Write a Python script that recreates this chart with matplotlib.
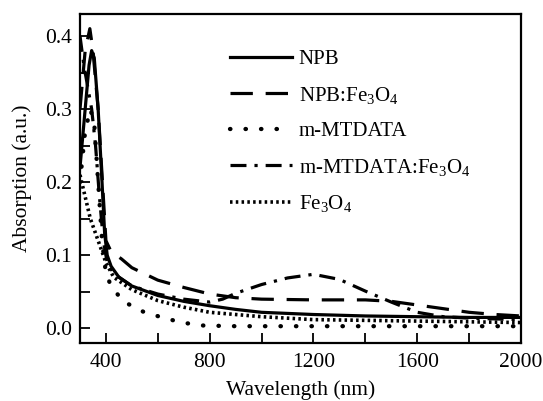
import numpy as np
import matplotlib
matplotlib.use('Agg')
import matplotlib.pyplot as plt
from matplotlib.ticker import MultipleLocator

plt.rcParams['font.family'] = 'Liberation Serif'
plt.rcParams['mathtext.fontset'] = 'custom'
plt.rcParams['mathtext.rm'] = 'Liberation Serif'
plt.rcParams['mathtext.it'] = 'Liberation Serif'

# NPB (solid)
npb_x = [300, 320, 335, 345, 355, 370, 385, 395, 405, 420, 450, 500, 600, 700, 800, 900, 1000, 1200, 1400, 1600, 1800, 2000]
npb_y = [0.22, 0.30, 0.36, 0.38, 0.37, 0.30, 0.20, 0.13, 0.10, 0.085, 0.07, 0.058, 0.045, 0.037, 0.031, 0.026, 0.022, 0.019, 0.017, 0.016, 0.015, 0.015]

# NPB:Fe3O4 (dashed)
npbfe_x = [300, 320, 338, 350, 370, 390, 400, 420, 460, 500, 600, 700, 800, 900, 1000, 1200, 1400, 1500, 1600, 1700, 1800, 1900, 2000]
npbfe_y = [0.30, 0.38, 0.41, 0.38, 0.30, 0.18, 0.12, 0.105, 0.095, 0.083, 0.066, 0.056, 0.047, 0.042, 0.04, 0.039, 0.039, 0.037, 0.032, 0.027, 0.022, 0.019, 0.017]

# m-MTDATA (sparse dots)
mt_x = [300, 320, 340, 355, 370, 385, 400, 420, 466, 543, 616, 693, 770, 900, 1200, 1600, 2000]
mt_y = [0.20, 0.27, 0.30, 0.28, 0.20, 0.12, 0.075, 0.058, 0.037, 0.023, 0.015, 0.008, 0.004, 0.003, 0.003, 0.003, 0.003]

# m-MTDATA:Fe3O4 (dash-dot)
mtfe_x = [300, 315, 330, 345, 360, 375, 390, 405, 430, 500, 600, 700, 800, 850, 900, 1000, 1100, 1200, 1300, 1400, 1500, 1600, 1700, 1800, 2000]
mtfe_y = [0.40, 0.36, 0.33, 0.30, 0.25, 0.18, 0.12, 0.09, 0.075, 0.058, 0.047, 0.040, 0.036, 0.040, 0.048, 0.060, 0.069, 0.074, 0.067, 0.051, 0.036, 0.022, 0.016, 0.014, 0.012]

# Fe3O4 (dense dots)
fe_x = [300, 340, 380, 400, 430, 500, 600, 700, 800, 1000, 1200, 1600, 2000]
fe_y = [0.21, 0.15, 0.11, 0.09, 0.07, 0.053, 0.038, 0.029, 0.022, 0.016, 0.012, 0.010, 0.008]

labels = ['NPB', 'NPB:Fe$_3$O$_4$', 'm-MTDATA', 'm-MTDATA:Fe$_3$O$_4$', 'Fe$_3$O$_4$']

fig = plt.figure(figsize=(5.43, 4.01), dpi=100)
ax = fig.add_axes([0.1473, 0.1446, 0.8122, 0.8204])

lw = 2.3
ax.plot(npb_x, npb_y, color='black', linewidth=lw, linestyle='-', label=labels[0])
ax.plot(npbfe_x, npbfe_y, color='black', linewidth=lw, linestyle=(0, (7, 4)), label=labels[1])
ax.plot(mt_x, mt_y, color='black', linewidth=lw + 0.8, linestyle=(0, (0.1, 3.5)), dash_capstyle='round', label=labels[2])
ax.plot(mtfe_x, mtfe_y, color='black', linewidth=lw, linestyle=(0, (5, 2.5, 1, 2.5)), label=labels[3])
ax.plot(fe_x, fe_y, color='black', linewidth=lw + 0.3, linestyle=(0, (0.7, 0.9)), label=labels[4])

ax.set_xlim(300, 2000)
ax.set_ylim(-0.02, 0.43)
ax.xaxis.set_major_locator(MultipleLocator(400))
ax.xaxis.set_minor_locator(MultipleLocator(200))
ax.yaxis.set_major_locator(MultipleLocator(0.1))
ax.yaxis.set_minor_locator(MultipleLocator(0.05))
ax.set_xticks([400, 800, 1200, 1600, 2000])
ax.set_yticks([0.0, 0.1, 0.2, 0.3, 0.4])
ax.set_yticklabels(['0.0', '0.1', '0.2', '0.3', '0.4'])
ax.tick_params(which='both', direction='in', length=7, width=1.3, labelsize=15.5)
ax.tick_params(axis='x', pad=7)
ax.tick_params(axis='y', pad=6)
ax.tick_params(which='both', top=False, right=False)

for spine in ax.spines.values():
    spine.set_color('black')
    spine.set_linewidth(1.6)

ax.set_xlabel('Wavelength (nm)', fontsize=15.5, labelpad=6)
ax.set_ylabel('Absorption (a.u.)', fontsize=15.5, labelpad=9)

ax.legend(loc='upper left', bbox_to_anchor=(0.34, 0.892), frameon=False, fontsize=15,
          borderpad=0, borderaxespad=0,
          handlelength=3.0, handletextpad=0.3, labelspacing=0.75)

fig.savefig('out.png', dpi=100)
